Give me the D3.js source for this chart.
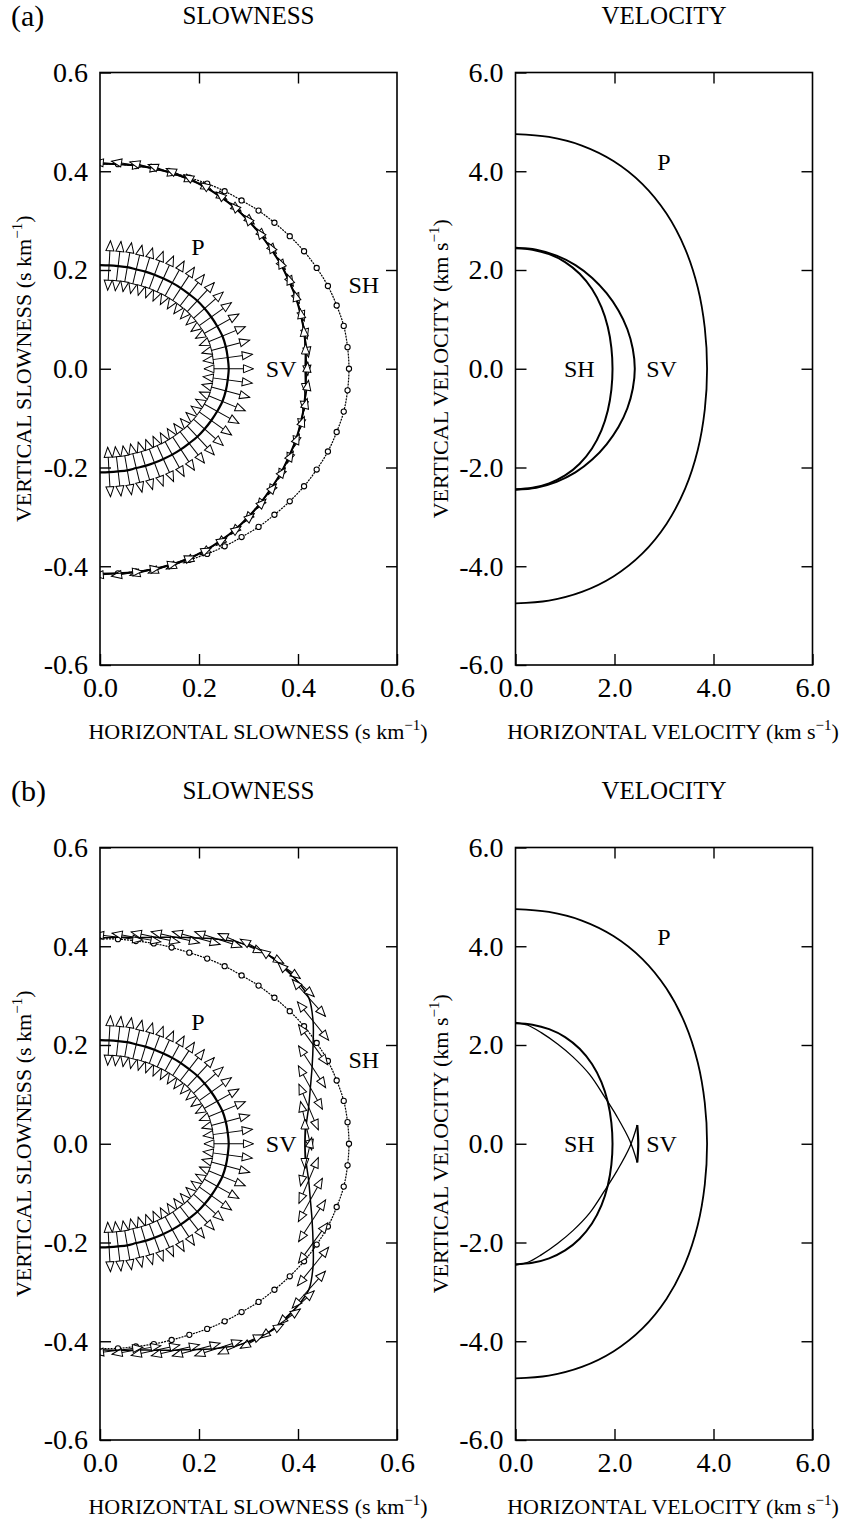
<!DOCTYPE html>
<html>
<head>
<meta charset="utf-8">
<script src="https://cdn.jsdelivr.net/npm/d3@7"></script>
<style>
  body { margin: 0; background: #fff; }
  svg { display: block; }
  text { font-family: "Liberation Serif", "Times New Roman", serif; fill: #000; }
</style>
</head>
<body>
<svg id="fig" width="846" height="1522"></svg>
<script>
// phase angle, degrees from the vertical axis (0 = up, 90 = horizontal, 180 = down)
const PHASE = [0, 5, 10, 15, 20, 25, 30, 35, 40, 45, 50, 55, 60, 65, 70, 75, 80, 85, 90,
    95, 100, 105, 110, 115, 120, 125, 130, 135, 140, 145, 150, 155, 160, 165, 170, 175, 180];

// slowness magnitude (s/km) at each phase angle
const P_SLOW = [0.210, 0.210, 0.211, 0.213, 0.214, 0.217, 0.220, 0.223, 0.227, 0.231, 0.235, 0.240, 0.244,
    0.248, 0.252, 0.256, 0.258, 0.259, 0.260, 0.259, 0.258, 0.256, 0.252, 0.248, 0.244, 0.240, 0.235,
    0.231, 0.227, 0.223, 0.220, 0.217, 0.214, 0.213, 0.211, 0.210, 0.210];
const SH_SLOW = [0.415, 0.416, 0.417, 0.420, 0.423, 0.427, 0.433, 0.439, 0.445, 0.453, 0.460, 0.468, 0.476,
    0.483, 0.490, 0.495, 0.500, 0.502, 0.503, 0.502, 0.500, 0.495, 0.490, 0.483, 0.476, 0.468, 0.460,
    0.453, 0.445, 0.439, 0.433, 0.427, 0.423, 0.420, 0.417, 0.416, 0.415];
const SV_SLOW_A = [0.415, 0.416, 0.418, 0.420, 0.422, 0.424, 0.425, 0.425, 0.425, 0.424, 0.423, 0.422, 0.422,
    0.421, 0.421, 0.420, 0.419, 0.417, 0.415, 0.417, 0.419, 0.420, 0.421, 0.421, 0.422, 0.422, 0.423,
    0.424, 0.425, 0.425, 0.425, 0.424, 0.422, 0.420, 0.418, 0.416, 0.415];
const SV_SLOW_B = [0.417, 0.420, 0.424, 0.433, 0.445, 0.460, 0.478, 0.496, 0.509, 0.515, 0.517, 0.515, 0.497,
    0.475, 0.456, 0.440, 0.428, 0.418, 0.414, 0.418, 0.428, 0.440, 0.456, 0.475, 0.497, 0.515, 0.517,
    0.515, 0.509, 0.496, 0.478, 0.460, 0.445, 0.433, 0.424, 0.420, 0.417];

// polarization direction, degrees counter-clockwise from the horizontal axis
const P_POL = [90, 86.7, 83.4, 80.1, 76.6, 73.1, 69.4, 65.5, 61.3, 56.9, 52.1, 47.0, 41.5, 35.5, 29.2, 22.3,
    15.1, 7.6, 0, -7.6, -15.1, -22.3, -29.2, -35.5, -41.5, -47.0, -52.1, -56.9, -61.3, -65.5, -69.4,
    -73.1, -76.6, -80.1, -83.4, -86.7, -90];
const SV_POL_A = [0, -5, -10, -15, -20, -25, -30, -35, -40, -45, -50, -55, -60, -65, -70, -75, -80, -85, -90,
    85, 80, 75, 70, 65, 60, 55, 50, 45, 40, 35, 30, 25, 20, 15, 10, 5, 0];
const SV_POL_B = [0, -7, -10, -12, -13, -15, -18, -23, -29, -36, -43, -48, -51, -54, -57, -61, -67, -77, -90,
    77, 67, 61, 57, 54, 51, 48, 43, 36, 29, 23, 18, 15, 13, 12, 10, 7, 0];

// group velocity curves (km/s)
const P_VEL_X = [0, 0.674, 1.340, 1.978, 2.560, 3.050, 3.427, 3.682, 3.824, 3.870,
    3.824, 3.682, 3.427, 3.050, 2.560, 1.978, 1.340, 0.674, 0];
const P_VEL_Y = [4.750, 4.694, 4.519, 4.206, 3.744, 3.142, 2.428, 1.645, 0.828, 0,
    -0.828, -1.645, -2.428, -3.142, -3.744, -4.206, -4.519, -4.694, -4.750];
const SH_VEL_X = [0, 0.342, 0.679, 1.002, 1.296, 1.545, 1.736, 1.865, 1.937, 1.960,
    1.937, 1.865, 1.736, 1.545, 1.296, 1.002, 0.679, 0.342, 0];
const SH_VEL_Y = [2.440, 2.411, 2.321, 2.161, 1.923, 1.614, 1.247, 0.845, 0.425, 0,
    -0.425, -0.845, -1.247, -1.614, -1.923, -2.161, -2.321, -2.411, -2.440];
const SV_VEL_A_X = [0, 0.42, 0.83, 1.21, 1.55, 1.84, 2.08, 2.26, 2.37, 2.41,
    2.37, 2.26, 2.08, 1.84, 1.55, 1.21, 0.83, 0.42, 0];
const SV_VEL_A_Y = [2.45, 2.41, 2.29, 2.10, 1.84, 1.53, 1.18, 0.80, 0.40, 0,
    -0.40, -0.80, -1.18, -1.53, -1.84, -2.10, -2.29, -2.41, -2.45];
// (b) SV: upper branch to lower cusp, cusp-to-cusp segment, lower branch
const SV_VEL_B1_X = [0, 0.25, 0.52, 0.85, 1.16, 1.50, 1.80, 2.05, 2.31, 2.46];
const SV_VEL_B1_Y = [2.46, 2.40, 2.25, 2.02, 1.76, 1.40, 0.95, 0.55, 0.06, -0.38];
const SV_VEL_B2_X = [2.46, 2.48, 2.46];
const SV_VEL_B2_Y = [-0.38, 0, 0.38];
const SV_VEL_B3_X = [2.46, 2.31, 2.05, 1.80, 1.50, 1.16, 0.85, 0.52, 0.25, 0];
const SV_VEL_B3_Y = [0.38, -0.06, -0.55, -0.95, -1.40, -1.76, -2.02, -2.25, -2.40, -2.46];

const SLOW_TICKS = [-0.6, -0.4, -0.2, 0.0, 0.2, 0.4, 0.6];
const VEL_TICKS = [-6, -4, -2, 0, 2, 4, 6];

var FRAME_W = 297, FRAME_H = 592.5;
var ROW_SHIFT = 775;
var ARROW_HALF = 0.05;

var svg = d3.select("#fig");
svg.append("rect").attr("width", 846).attr("height", 1522).attr("fill", "#fff");

var fmt = function (d) { return d.toFixed(1); };
var smooth = d3.line().curve(d3.curveCatmullRom.alpha(0.5));
var clipCount = 0;

function makePanel(left, top, lim) {
    var p = {};
    p.x = d3.scaleLinear().domain([0, lim]).range([left, left + FRAME_W]);
    p.y = d3.scaleLinear().domain([-lim, lim]).range([top + FRAME_H, top]);
    p.k = p.x(1) - p.x(0);
    p.g = svg.append("g");
    var id = "clip" + (clipCount++);
    svg.append("clipPath").attr("id", id).append("rect")
        .attr("x", left).attr("y", top).attr("width", FRAME_W).attr("height", FRAME_H);
    p.plot = p.g.append("g").attr("clip-path", "url(#" + id + ")");
    return p;
}

function styleAxis(sel) {
    sel.attr("font-size", 28).attr("font-family", null);
    sel.select(".domain").remove();
    sel.selectAll("line").attr("stroke-width", 1.4);
}

function drawAxes(p, ticks) {
    var inner = ticks.filter(function (d) { return d > ticks[0] && d < ticks[ticks.length - 1]; });
    var pos = ticks.filter(function (d) { return d >= 0; });
    var posInner = inner.filter(function (d) { return d > 0; });
    var xl = p.x.range()[0], xr = p.x.range()[1], yb = p.y.range()[0], yt = p.y.range()[1];

    p.g.append("g").attr("transform", "translate(0," + yb + ")")
        .call(d3.axisBottom(p.x).tickValues(pos).tickFormat(fmt).tickSizeInner(-11).tickSizeOuter(0).tickPadding(12))
        .call(styleAxis);
    p.g.append("g").attr("transform", "translate(0," + yt + ")")
        .call(d3.axisTop(p.x).tickValues(posInner).tickFormat("").tickSizeInner(-11).tickSizeOuter(0))
        .call(styleAxis);
    p.g.append("g").attr("transform", "translate(" + xl + ",0)")
        .call(d3.axisLeft(p.y).tickValues(ticks).tickFormat(fmt).tickSizeInner(-11).tickSizeOuter(0).tickPadding(12))
        .call(styleAxis);
    p.g.append("g").attr("transform", "translate(" + xr + ",0)")
        .call(d3.axisRight(p.y).tickValues(inner).tickFormat("").tickSizeInner(-11).tickSizeOuter(0))
        .call(styleAxis);

    p.g.append("rect")
        .attr("x", xl).attr("y", yt).attr("width", xr - xl).attr("height", yb - yt)
        .attr("fill", "none").attr("stroke", "#000").attr("stroke-width", 1.6);
}

function axisText(g, x, y, rot, main, unitA, unitB) {
    var t = g.append("text")
        .attr("transform", "translate(" + x + "," + y + ") rotate(" + rot + ")")
        .attr("text-anchor", "middle")
        .attr("font-size", 22);
    t.append("tspan").text(main + " (" + unitA);
    t.append("tspan").attr("font-size", 15).attr("dy", -9).text(unitB);
    t.append("tspan").attr("dy", 9).text(")");
}

function polarPoints(p, mag) {
    return PHASE.map(function (t, i) {
        var a = t * Math.PI / 180;
        return [p.x(mag[i] * Math.sin(a)), p.y(mag[i] * Math.cos(a))];
    });
}

function xyPoints(p, xs, ys) {
    return xs.map(function (v, i) { return [p.x(v), p.y(ys[i])]; });
}

function drawCurve(p, pts, width, dash) {
    p.plot.append("path")
        .attr("d", smooth(pts))
        .attr("fill", "none")
        .attr("stroke", "#000")
        .attr("stroke-width", width)
        .attr("stroke-dasharray", dash || null);
}

function drawArrows(p, mag, pol) {
    var pts = polarPoints(p, mag);
    var L = ARROW_HALF * p.k;
    var marks = d3.range(1, PHASE.length - 1).map(function (i) {
        return { cx: pts[i][0], cy: pts[i][1], ang: pol[i] };
    });
    var ga = p.plot.append("g").selectAll("g").data(marks).join("g")
        .attr("transform", function (d) { return "translate(" + d.cx + "," + d.cy + ") rotate(" + (-d.ang) + ")"; });
    ga.append("line")
        .attr("x1", -L).attr("x2", L).attr("y1", 0).attr("y2", 0)
        .attr("stroke", "#000").attr("stroke-width", 1);
    ga.append("path")
        .attr("d", "M" + L + ",0L" + (L - 10) + ",-4L" + (L - 10) + ",4Z")
        .attr("fill", "#fff").attr("stroke", "#000").attr("stroke-width", 1);
    ga.append("path")
        .attr("d", "M" + (-L) + ",0L" + (-L + 10) + ",-4L" + (-L + 10) + ",4Z")
        .attr("fill", "#fff").attr("stroke", "#000").attr("stroke-width", 1);
}

function drawCircles(p, mag) {
    var pts = polarPoints(p, mag).slice(1, PHASE.length - 1);
    p.plot.append("g").selectAll("circle").data(pts).join("circle")
        .attr("cx", function (d) { return d[0]; })
        .attr("cy", function (d) { return d[1]; })
        .attr("r", 2.6)
        .attr("fill", "#fff").attr("stroke", "#000").attr("stroke-width", 1.1);
}

function curveLabel(p, txt, x, y) {
    p.g.append("text")
        .attr("x", p.x(x)).attr("y", p.y(y))
        .attr("dy", "0.35em")
        .attr("text-anchor", "middle")
        .attr("font-size", 24)
        .text(txt);
}

function drawRow(row, letter, svSlow, svPol, drawSvVel) {
    var top = 72.5 + row * ROW_SHIFT;
    var ps = makePanel(100, top, 0.6);
    var pv = makePanel(515.5, top, 6);

    svg.append("text").attr("x", 11).attr("y", 26 + row * ROW_SHIFT).attr("font-size", 30).text(letter);
    svg.append("text").attr("x", 248.5).attr("y", 23.5 + row * ROW_SHIFT).attr("text-anchor", "middle")
        .attr("font-size", 25).text("SLOWNESS");
    svg.append("text").attr("x", 664).attr("y", 23.5 + row * ROW_SHIFT).attr("text-anchor", "middle")
        .attr("font-size", 25).text("VELOCITY");

    // slowness panel
    drawCurve(ps, polarPoints(ps, SH_SLOW), 1.2, "2,1");
    drawCircles(ps, SH_SLOW);
    drawCurve(ps, polarPoints(ps, svSlow), row === 0 ? 2 : 1.5);
    drawArrows(ps, svSlow, svPol);
    drawCurve(ps, polarPoints(ps, P_SLOW), 2.2);
    drawArrows(ps, P_SLOW, P_POL);
    drawAxes(ps, SLOW_TICKS);
    curveLabel(ps, "P", 0.198, 0.248);
    curveLabel(ps, "SH", 0.533, 0.170);
    curveLabel(ps, "SV", 0.366, 0.0);
    axisText(ps.g, 258, top + FRAME_H + 74, 0, "HORIZONTAL SLOWNESS", "s km", "\u22121");
    axisText(ps.g, 31, top + FRAME_H / 2, -90, "VERTICAL SLOWNESS", "s km", "\u22121");

    // velocity panel
    drawCurve(pv, xyPoints(pv, P_VEL_X, P_VEL_Y), 1.8);
    drawCurve(pv, xyPoints(pv, SH_VEL_X, SH_VEL_Y), 2);
    drawSvVel(pv);
    drawAxes(pv, VEL_TICKS);
    curveLabel(pv, "P", 3.0, 4.2);
    curveLabel(pv, "SH", 1.29, 0.0);
    curveLabel(pv, "SV", 2.95, 0.0);
    axisText(pv.g, 673, top + FRAME_H + 74, 0, "HORIZONTAL VELOCITY", "km s", "\u22121");
    axisText(pv.g, 448, top + FRAME_H / 2, -90, "VERTICAL VELOCITY", "km s", "\u22121");
}

drawRow(0, "(a)", SV_SLOW_A, SV_POL_A, function (pv) {
    drawCurve(pv, xyPoints(pv, SV_VEL_A_X, SV_VEL_A_Y), 2);
});

drawRow(1, "(b)", SV_SLOW_B, SV_POL_B, function (pv) {
    drawCurve(pv, xyPoints(pv, SV_VEL_B1_X, SV_VEL_B1_Y), 1.3);
    drawCurve(pv, xyPoints(pv, SV_VEL_B2_X, SV_VEL_B2_Y), 2.2);
    drawCurve(pv, xyPoints(pv, SV_VEL_B3_X, SV_VEL_B3_Y), 1.3);
});
</script>
</body>
</html>
